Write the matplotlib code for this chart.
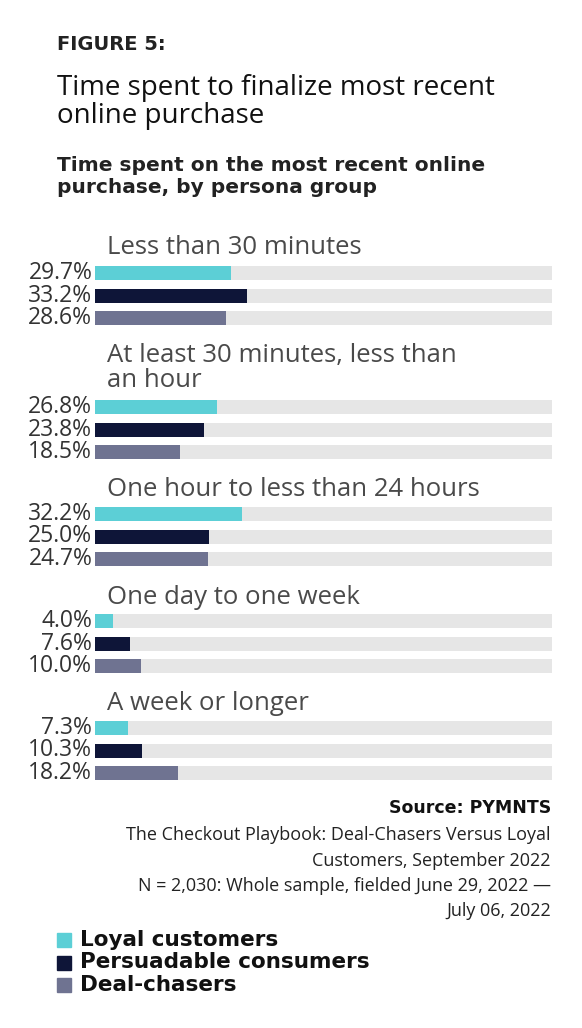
import matplotlib
matplotlib.use("Agg")
import matplotlib.pyplot as plt

categories = ["Less than 30 minutes", "At least 30 minutes, less than\nan hour",
              "One hour to less than 24 hours", "One day to one week", "A week or longer"]
series = ["Loyal customers", "Persuadable consumers", "Deal-chasers"]
loyal = [29.7, 26.8, 32.2, 4.0, 7.3]
persuadable = [33.2, 23.8, 25.0, 7.6, 10.3]
deal = [28.6, 18.5, 24.7, 10.0, 18.2]
colors = ["#5ccfd6", "#0e1538", "#6f7391"]
track = "#e6e6e6"

plt.rcParams['font.family'] = ['Open Sans', 'DejaVu Sans']
W, H = 582, 1028
fig = plt.figure(figsize=(W/100, H/100), dpi=100)
ax = fig.add_axes([95/W, 0, (552-95)/W, 1])
ax.set_xlim(0, 100)
ax.set_ylim(H, 0)
ax.axis("off")

first_bar = [273, 407, 514, 621, 728]
title_y = [247, 368, 489, 597, 703]
step = 22.5
for g, cat in enumerate(categories):
    ax.text(2.6, title_y[g], cat, fontsize=18.5, color="#4a4a4a",
            va="center", ha="left", linespacing=1.0)
    for s, vals in enumerate([loyal, persuadable, deal]):
        y = first_bar[g] + s * step
        ax.barh(y, 100, height=14, color=track, left=0)
        ax.barh(y, vals[g], height=14, color=colors[s])
        ax.text(-0.6, y, f"{vals[g]:.1f}%", fontsize=16.5, color="#333333",
                ha="right", va="center")

fig.text(57/W, 1-45/H, "FIGURE 5:", fontsize=14, fontweight="bold",
         family="DejaVu Sans", color="#222222", va="center")
fig.text(57/W, 1-102/H, "Time spent to finalize most recent\nonline purchase", fontsize=20,
         color="#111111", va="center", linespacing=1.0)
fig.text(57/W, 1-176/H, "Time spent on the most recent online\npurchase, by persona group",
         fontsize=14.5, fontweight="bold", family="DejaVu Sans", color="#222222",
         va="center", linespacing=1.2)

fig.text(551/W, 1-808/H, "Source: PYMNTS", fontsize=12.5, fontweight="bold",
         family="DejaVu Sans", ha="right", va="center", color="#111111")
src = ["The Checkout Playbook: Deal-Chasers Versus Loyal", "Customers, September 2022",
       "N = 2,030: Whole sample, fielded June 29, 2022 \u2014", "July 06, 2022"]
for i, line in enumerate(src):
    fig.text(551/W, 1-(835+i*25.5)/H, line, fontsize=13, ha="right", va="center", color="#222222")

for i, name in enumerate(series):
    y = 940 + i * 22.5
    fig.patches.append(plt.Rectangle((57/W, 1-(y+7)/H), 14/W, 14/H, color=colors[i],
                                     transform=fig.transFigure))
    fig.text(80/W, 1-y/H, name, fontsize=15.5, fontweight="bold", family="DejaVu Sans",
             va="center", color="#111111")

fig.savefig("out.png", dpi=100)
